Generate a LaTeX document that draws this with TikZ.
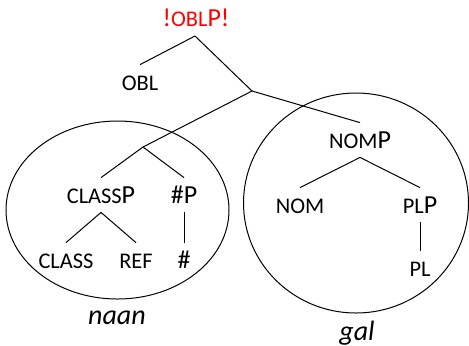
\documentclass[tikz,border=0pt]{standalone}
\usepackage{fontspec}
\setmainfont{Carlito}
\definecolor{oblRed}{HTML}{FF0000}
\newcommand{\smc}[1]{{\fontsize{11.2pt}{13pt}\selectfont #1}}
\usetikzlibrary{positioning}

\begin{document}
\begin{tikzpicture}[
    x=0.5pt, y=-0.5pt,
    cat/.style={font=\fontsize{13pt}{15pt}\selectfont, text height=8.2pt,
                text depth=0pt, inner xsep=1pt, inner ysep=4.4pt},
    branch/.style={line width=0.5pt},
    region/.style={draw, line width=0.5pt},
    gloss/.style={font=\fontsize{14pt}{16pt}\selectfont\itshape}
  ]
    \useasboundingbox (0,0) rectangle (469,345);

    % Spell-out regions
    \draw[region] (117.5,210) ellipse [x radius=111.5, y radius=89];
    \draw[region] (356,203) ellipse [x radius=112.5, y radius=110];

    % Tree nodes
    \node[cat, text=oblRed] (oblp) at (196,18) {!\smc{OBL}P!};
    \coordinate (root) at (195,36);
    \node[cat] (obl) at (140,82) {\smc{OBL}};
    \coordinate (mid) at (252,91);
    \coordinate (low) at (143,147);
    \node[cat] (nomp) at (360,140) {\smc{NOM}P};
    \node[cat] (classp) at (101,195) {\smc{CLASS}P};
    \node[cat] (nump) at (184,195) {\#P};
    \node[cat] (class) at (66,260) {\smc{CLASS}};
    \node[cat] (ref) at (136,260) {\smc{REF}};
    \node[cat] (num) at (184,260) {\#};
    \node[cat] (nom) at (300,205) {\smc{NOM}};
    \node[cat] (plp) at (420,205) {\smc{PL}P};
    \node[cat] (pl) at (420,268) {\smc{PL}};

    % Branches
    \draw[branch] (obl.north) -- (root) -- (mid);
    \draw[branch] (low) -- (mid) -- (nomp.north);
    \draw[branch] (classp.north) -- (low) -- (nump.north);
    \draw[branch] (class.north) -- (classp.south) -- (ref.north);
    \draw[branch] (nump.south) -- (num.north);
    \draw[branch] (nom.north) -- (nomp.south) -- (plp.north);
    \draw[branch] (plp.south) -- (pl.north);

    % Exponents
    \node[gloss] (naan) at (117,318) {naan};
    \node[gloss] (gal) at (357,333) {gal};
\end{tikzpicture}
\end{document}
